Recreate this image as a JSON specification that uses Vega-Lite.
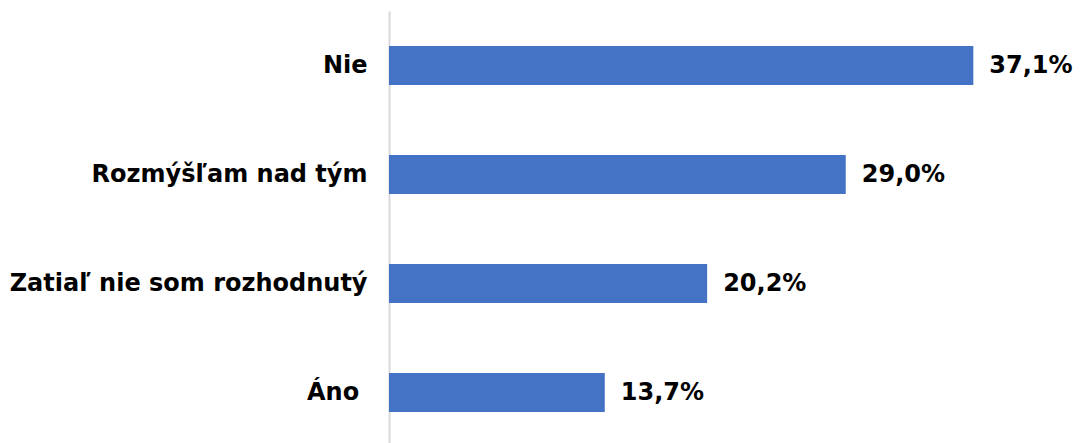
{
  "$schema": "https://vega.github.io/schema/vega-lite/v6.json",
  "autosize": {"type": "none"},
  "padding": {"left": 389, "top": 11, "right": 63, "bottom": 0},
  "width": 630,
  "height": 436,
  "background": "white",
  "config": {"view": {"stroke": null}},
  "data": {"values": [
    {"kategoria": "Nie", "hodnota": 37.1, "label": "37,1%"},
    {"kategoria": "Rozmýšľam nad tým", "hodnota": 29.0, "label": "29,0%"},
    {"kategoria": "Zatiaľ nie som rozhodnutý", "hodnota": 20.2, "label": "20,2%"},
    {"kategoria": "Áno\u00a0\u200b", "hodnota": 13.7, "label": "13,7%"}
  ]},
  "encoding": {
    "y": {
      "field": "kategoria", "type": "nominal", "sort": null,
      "scale": {"paddingInner": 0.642, "paddingOuter": 0.321},
      "axis": {
        "title": null, "ticks": false, "labelPadding": 22,
        "labelFont": "DejaVu Sans", "labelFontWeight": "bold", "labelFontSize": 24,
        "labelColor": "black", "domainColor": "#d9d9d9", "domainWidth": 2,
        "labelLimit": 500
      }
    },
    "x": {
      "field": "hodnota", "type": "quantitative",
      "scale": {"domain": [0, 40]},
      "axis": null
    }
  },
  "layer": [
    {"mark": {"type": "bar", "color": "#4472C4"}},
    {
      "mark": {"type": "text", "align": "left", "baseline": "middle", "dx": 16,
               "font": "DejaVu Sans", "fontWeight": "bold", "fontSize": 24, "color": "black"},
      "encoding": {"text": {"field": "label"}}
    }
  ]
}
